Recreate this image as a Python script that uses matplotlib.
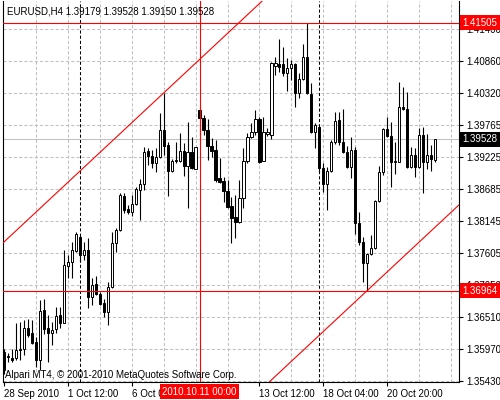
import matplotlib
matplotlib.use('Agg')
import matplotlib.pyplot as plt
import matplotlib.transforms as mtransforms

# EURUSD H4 candles (28 Sep 2010 20:00 .. 22 Oct 2010)
opens = [1.35922, 1.35854, 1.35820, 1.35820, 1.35956, 1.35973, 1.36329, 1.36244, 1.36092, 1.35786,
         1.36634, 1.36329, 1.36244, 1.36312, 1.36549, 1.36414, 1.37380, 1.37448, 1.37635, 1.37872,
         1.37567, 1.37652, 1.36855, 1.37075, 1.36906, 1.36753, 1.36600, 1.37024, 1.37771, 1.37991,
         1.38568, 1.38347, 1.38296, 1.38432, 1.38669, 1.38771, 1.39331, 1.39246, 1.39127, 1.39229,
         1.39687, 1.39433, 1.38992, 1.39161, 1.39161, 1.39331, 1.39076, 1.39314, 1.39026, 1.40026,
         1.39891, 1.39687, 1.39416, 1.39348, 1.38873, 1.38822, 1.38652, 1.38398, 1.38211, 1.38127,
         1.38534, 1.39161, 1.39568, 1.39653, 1.39874, 1.39161, 1.39619, 1.39602, 1.40772, 1.40806,
         1.40806, 1.40654, 1.40739, 1.40806, 1.40315, 1.40552, 1.40925, 1.40298, 1.39653, 1.39738,
         1.39042, 1.38771, 1.38992, 1.39484, 1.39857, 1.39484, 1.39314, 1.39060, 1.39348, 1.38110,
         1.37788, 1.37431, 1.37584, 1.37686, 1.38483, 1.38975, 1.39704, 1.39585, 1.39144, 1.39144,
         1.40077, 1.40043, 1.39060, 1.39263, 1.39060, 1.39602, 1.39144, 1.39263, 1.39179]
highs = [1.35973, 1.35905, 1.35973, 1.36414, 1.36431, 1.36465, 1.36482, 1.36465, 1.36176, 1.36804,
         1.36821, 1.36549, 1.36431, 1.36685, 1.36685, 1.37652, 1.37567, 1.37788, 1.37957, 1.37906,
         1.37788, 1.37855, 1.37177, 1.37211, 1.36940, 1.36821, 1.37109, 1.37957, 1.38025, 1.38619,
         1.38619, 1.38415, 1.38585, 1.38720, 1.38856, 1.39399, 1.39382, 1.39348, 1.39382, 1.39975,
         1.40315, 1.39484, 1.39195, 1.39484, 1.39636, 1.39467, 1.39823, 1.39568, 1.39399, 1.40077,
         1.39941, 1.39874, 1.39551, 1.39517, 1.39212, 1.38890, 1.38839, 1.38551, 1.38585, 1.38839,
         1.39382, 1.39636, 1.39806, 1.40026, 1.39908, 1.39908, 1.39721, 1.40840, 1.40925, 1.41230,
         1.41095, 1.40908, 1.40874, 1.40823, 1.40654, 1.41146, 1.41505, 1.40484, 1.39806, 1.39755,
         1.39127, 1.39060, 1.39517, 1.39992, 1.39992, 1.40043, 1.39416, 1.39568, 1.39399, 1.38296,
         1.37872, 1.37601, 1.37906, 1.38500, 1.39076, 1.39721, 1.39908, 1.39823, 1.39484, 1.40501,
         1.40416, 1.40332, 1.39399, 1.39382, 1.39721, 1.39738, 1.39619, 1.39433, 1.39528]
lows = [1.35549, 1.35752, 1.35752, 1.35786, 1.35786, 1.35871, 1.36176, 1.36058, 1.35668, 1.35617,
        1.36227, 1.35752, 1.36041, 1.36244, 1.36329, 1.36414, 1.37177, 1.37177, 1.37618, 1.37448,
        1.37482, 1.36668, 1.36719, 1.36889, 1.36719, 1.36516, 1.36380, 1.37007, 1.37618, 1.37974,
        1.38279, 1.38262, 1.38228, 1.38415, 1.38161, 1.38669, 1.39093, 1.39042, 1.38975, 1.39212,
        1.39263, 1.38568, 1.38975, 1.39127, 1.39144, 1.38907, 1.38364, 1.39026, 1.39026, 1.39602,
        1.39602, 1.39178, 1.39229, 1.38805, 1.38788, 1.38466, 1.38364, 1.37771, 1.37855, 1.38110,
        1.38364, 1.39127, 1.39551, 1.39602, 1.39127, 1.39161, 1.39585, 1.39534, 1.40620, 1.40671,
        1.40603, 1.40348, 1.40535, 1.40077, 1.40230, 1.40535, 1.40298, 1.39636, 1.39382, 1.38975,
        1.38636, 1.38330, 1.38975, 1.39450, 1.39433, 1.39297, 1.39042, 1.38873, 1.37923, 1.37737,
        1.37109, 1.36964, 1.37567, 1.37669, 1.38466, 1.38924, 1.39568, 1.38720, 1.38941, 1.39144,
        1.40026, 1.39042, 1.39042, 1.38890, 1.39042, 1.38619, 1.39026, 1.38992, 1.39150]
closes = [1.35617, 1.35837, 1.35786, 1.35956, 1.35973, 1.36329, 1.36210, 1.36075, 1.35786, 1.36617,
          1.36312, 1.36244, 1.36295, 1.36532, 1.36414, 1.37397, 1.37448, 1.37652, 1.37923, 1.37567,
          1.37652, 1.36855, 1.37058, 1.36906, 1.36736, 1.36600, 1.37024, 1.37771, 1.37991, 1.38585,
          1.38330, 1.38296, 1.38432, 1.38686, 1.38771, 1.39314, 1.39246, 1.39127, 1.39229, 1.39687,
          1.39416, 1.38992, 1.39161, 1.39178, 1.39331, 1.39076, 1.39314, 1.39042, 1.39399, 1.39891,
          1.39687, 1.39416, 1.39331, 1.38839, 1.38805, 1.38652, 1.38381, 1.38195, 1.38127, 1.38534,
          1.39161, 1.39568, 1.39653, 1.39874, 1.39144, 1.39653, 1.39653, 1.40823, 1.40823, 1.40756,
          1.40654, 1.40739, 1.40806, 1.40315, 1.40552, 1.40925, 1.40315, 1.39653, 1.39772, 1.39042,
          1.38771, 1.38992, 1.39484, 1.39840, 1.39484, 1.39314, 1.39060, 1.39348, 1.38110, 1.37788,
          1.37431, 1.37584, 1.37686, 1.38483, 1.38975, 1.39704, 1.39585, 1.39144, 1.39161, 1.40077,
          1.40043, 1.39060, 1.39263, 1.39060, 1.39602, 1.39144, 1.39263, 1.39195, 1.39528]

ytick_vals = [1.41400, 1.40860, 1.40320, 1.39765, 1.39225, 1.38685,
              1.38145, 1.37605, 1.37050, 1.36510, 1.35970, 1.35430]
ytick_labels = ['%.5f' % v for v in ytick_vals]
xtick_idx = [0, 16, 32, 64, 80, 96]
xtick_labels = ['28 Sep 2010', '1 Oct 12:00', '6 Oct 04:00', '13 Oct 12:00', '18 Oct 04:00', '20 Oct 20:00']
xgrid_idx = list(range(8, 113, 8))
separators = [19, 79]          # week starts
cursor_idx = 49
cursor_label = '2010.10.11 00:00'
red_levels = [1.41505, 1.36964]
bid = 1.39528
# equidistant channel
chan_p1 = (0, 1.37788)
chan_p2 = (40, 1.40315)
chan_low = (91, 1.36964)

title = 'EURUSD,H4 1.39179 1.39528 1.39150 1.39528'
copyright = 'Alpari MT4, \u00a9 2001-2010 MetaQuotes Software Corp.'

plt.rcParams['font.family'] = ['Liberation Sans', 'DejaVu Sans']
FS = 7

fig = plt.figure(figsize=(5, 4), dpi=100)
ax = fig.add_axes([3 / 500, 18 / 400, 456 / 500, 381 / 400])
ax.set_xlim(-0.25, 114)
ax.set_ylim(1.35413, 1.41875)

# grid
for v in ytick_vals:
    ax.axhline(v, color='#c0c0c0', lw=0.75, ls=(0, (3, 2)), zorder=0)
for i in xgrid_idx:
    ax.axvline(i, color='#c0c0c0', lw=0.75, ls=(0, (3, 2)), zorder=0)
for i in separators:
    ax.axvline(i, color='black', lw=0.75, ls=(0, (3, 2)), zorder=1)

ax.axhline(bid, color='#c0c0c0', lw=0.75, zorder=1)

# candles
idx = list(range(len(opens)))
ax.vlines(idx, lows, highs, color='black', lw=0.8, zorder=2)
bottoms = [min(o, c) for o, c in zip(opens, closes)]
heights = [abs(c - o) for o, c in zip(opens, closes)]
colors = ['white' if c >= o else 'black' for o, c in zip(opens, closes)]
ax.bar(idx, heights, bottom=bottoms, width=0.55, color=colors,
       edgecolor='black', linewidth=0.7, zorder=3)

# objects
for v in red_levels:
    ax.axhline(v, color='red', lw=0.8, zorder=4)
ax.axvline(cursor_idx, color='red', lw=0.8, zorder=4)
ax.axline(chan_p1, chan_p2, color='red', lw=0.8, zorder=4)
ax.axline(chan_low, (chan_low[0] + chan_p2[0] - chan_p1[0], chan_low[1] + chan_p2[1] - chan_p1[1]),
          color='red', lw=0.8, zorder=4)

# axes look
for s in ['left', 'bottom', 'right']:
    ax.spines[s].set_linewidth(0.8)
ax.spines['top'].set_visible(False)
ax.yaxis.tick_right()
ax.set_yticks(ytick_vals, ytick_labels)
ax.set_xticks(xtick_idx, xtick_labels)
for lab in ax.get_xticklabels():
    lab.set_horizontalalignment('left')
ax.tick_params(axis='both', length=3, width=0.8, labelsize=FS, pad=2, colors='black')

# price labels on the right
ty = mtransforms.blended_transform_factory(ax.transAxes, ax.transData)
for v, bg in [(red_levels[0], 'red'), (bid, 'black'), (red_levels[1], 'red')]:
    ax.text(1.008, v, '%.5f' % v, transform=ty, color='white', fontsize=FS, va='center', ha='left',
            bbox=dict(boxstyle='square,pad=0.25', fc=bg, ec='none'), clip_on=False, zorder=10)

tx = mtransforms.blended_transform_factory(ax.transData, ax.transAxes)
ax.text(cursor_idx, -0.026, cursor_label, transform=tx, color='white', fontsize=FS, va='center', ha='center',
        bbox=dict(boxstyle='square,pad=0.25', fc='red', ec='none'), clip_on=False, zorder=10)

fig.text(7 / 500, 1 - 12 / 400, title, fontsize=FS, va='center', ha='left')
fig.text(5 / 500, 1 - 375 / 400, copyright, fontsize=FS, va='center', ha='left')

fig.savefig('out.png', dpi=100)
